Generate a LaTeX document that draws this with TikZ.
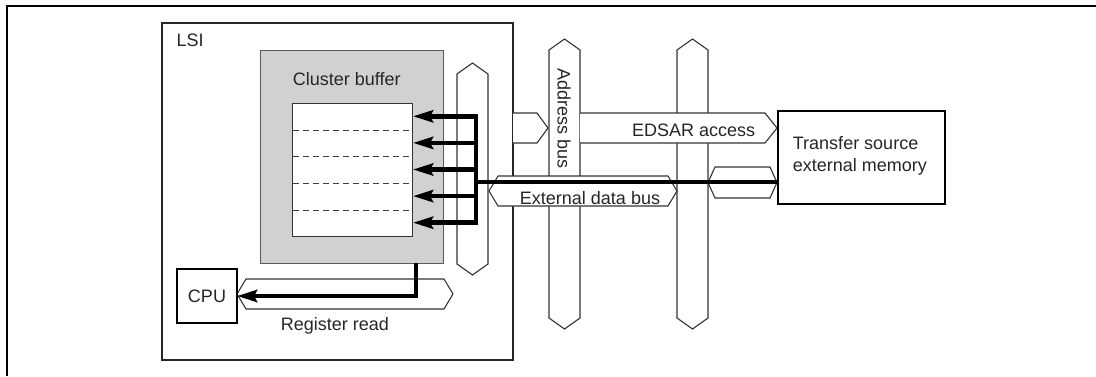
\documentclass[tikz,border=0pt]{standalone}
\usepackage{fontspec}
\setmainfont{Liberation Sans}
\usetikzlibrary{arrows.meta,calc}

% vertical bus: x left, x right, y top tip, y bottom tip
\newcommand\vhex[4]{\draw[bus] (#1,#3+11) -- ({(#1+#2)/2},#3) -- (#2,#3+11) -- (#2,#4-11) -- ({(#1+#2)/2},#4) -- (#1,#4-11) -- cycle;}
% horizontal bus: [tip] x left tip, x right tip, y top, y bottom
\newcommand\hhex[5][9]{\draw[bus] (#2,{(#4+#5)/2}) -- (#2+#1,#4) -- (#3-#1,#4) -- (#3,{(#4+#5)/2}) -- (#3-#1,#5) -- (#2+#1,#5) -- cycle;}

\begin{document}
\begin{tikzpicture}[x=1pt, y=-1pt,
  font=\fontsize{18}{21.7}\selectfont, >={Stealth[length=20pt,width=12pt,inset=3pt]},
  frame/.style={line width=2pt},
  blk/.style={draw, inner sep=0pt, outer sep=0pt},
  bus/.style={draw=black!80, fill=white, line width=1.1pt, line join=miter},
  rowsep/.style={draw=black!75, line width=1pt, dash pattern=on 6pt off 4pt},
  datapath/.style={->, line width=4.5pt},
  lbl/.style={anchor=base, inner sep=0pt, text=black!85},
]
\useasboundingbox (0,0) rectangle (1096,376);
\draw[frame] (7,376) -- (7,6) -- (1096,6);

% LSI and cluster buffer
\node[blk, draw=black!85, line width=2pt, minimum width=351, minimum height=337] (lsi) at (337.5,191.5) {};
\node[lbl, anchor=base west] (lsilbl) at (176.5,46.5) {LSI};
\node[blk, draw=black!65, fill=black!18, line width=1pt, minimum width=183, minimum height=213] (cbuf) at (351.5,156.5) {};
\node[lbl] (cbuflbl) at (346.7,85) {Cluster buffer};
\node[blk, draw=black!80, fill=white, line width=1pt, minimum width=120, minimum height=133] (mem) at (352,169.5) {};
\foreach \y in {130,156.7,183.3,210} \draw[rowsep] (292.5,\y) -- (411.5,\y);

% buses
\vhex{457}{488}{63}{275}
\hhex{237}{453}{279}{309}
\vhex{549}{580}{39}{329}
\vhex{677}{708}{39}{329}
\draw[bus] (513,113) -- (537,113) -- (548,128) -- (537,143) -- (513,143);
\draw[bus] (580,113) -- (765,113) -- (777,128) -- (765,143) -- (580,143);
\hhex{489}{677}{176}{206}
\hhex[7]{708}{777}{167}{198}

\node[lbl, rotate=-90] (addrlbl) at (557.5,118.3) {Address bus};
\node[lbl] (edsarlbl) at (693.7,136) {EDSAR access};
\node[lbl] (edblbl) at (590,204) {External data bus};
\node[lbl] (regrdlbl) at (335,330.5) {Register read};

% CPU and external memory
\node[blk, line width=2.5pt, minimum width=60, minimum height=54, text=black!85] (cpu) at (207,296) {CPU};
\node[blk, line width=2.5pt, minimum width=167, minimum height=93] (extmem) at (861.5,157.5) {};
\node[anchor=west, align=left, inner sep=0pt, text=black!85] (extmemlbl) at (792.7,156) {Transfer source\\external memory};

% data paths
\coordinate (split) at (476,182);
\coordinate (memport) at (extmem.west |- split);
\draw[line width=4.5pt] (memport) -- (split);
\foreach \i in {1,...,5} {
  \coordinate (row\i) at (413,{103+26.6*(\i-0.5)});
  \draw[datapath] (split) |- (row\i);
}
\coordinate (rdport) at (416,263);
\draw[datapath] (rdport) |- (cpu.east);
\end{tikzpicture}
\end{document}
